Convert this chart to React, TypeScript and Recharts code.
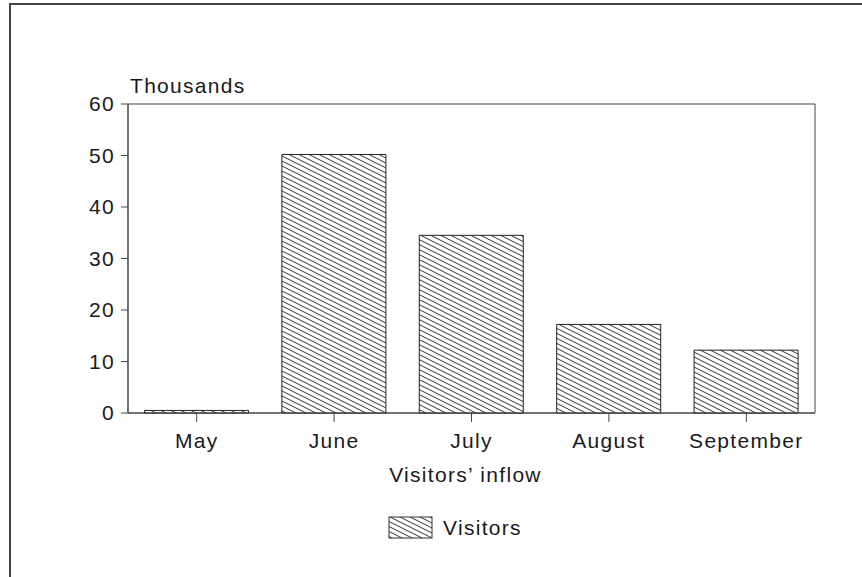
import React from 'react';
import { BarChart, Bar, XAxis, YAxis, Legend, Label, ReferenceArea } from 'recharts';

const months = ['May', 'June', 'July', 'August', 'September'];
const visitors = [0.5, 50.2, 34.5, 17.2, 12.2];
const yTicks = [0, 10, 20, 30, 40, 50, 60];
const seriesName = 'Visitors';
const xTitle = "Visitors\u2019 inflow";
const yTitle = 'Thousands';

const data = months.map((m, i) => ({ month: m, visitors: visitors[i] }));

const FONT = '"Liberation Sans", Arial, Helvetica, sans-serif';
const INK = '#1a1a1a';
const AXIS = '#444';
const FS = 21;
const LS = 1.3;

const Hatch = ({ id }: { id: string }) => (
  <pattern id={id} patternUnits="userSpaceOnUse" width={10} height={5}>
    <rect width={10} height={5} fill="#fff" />
    <path d="M-2,-1 L12,6 M-2,-6 L12,1 M-2,4 L12,11" stroke="#333" strokeWidth={1} />
  </pattern>
);

const LegendContent = () => (
  <div style={{ display: 'flex', justifyContent: 'flex-start', alignItems: 'center' }}>
    <svg width={46} height={24} style={{ display: 'block' }}>
      <defs>
        <Hatch id="hatchLegend" />
      </defs>
      <rect x={1} y={1} width={43} height={21} fill="url(#hatchLegend)" stroke="#333" strokeWidth={1} />
    </svg>
    <span style={{ marginLeft: 9, fontSize: FS, color: INK, fontFamily: FONT, letterSpacing: LS }}>{seriesName}</span>
  </div>
);

export default function App() {
  return (
    <div style={{ position: 'absolute', left: 0, top: 0, width: 862, height: 577, background: '#fff', fontFamily: FONT, letterSpacing: LS }}>
      <div style={{ position: 'absolute', left: 9, top: 3, right: 0, bottom: 0, borderTop: '2px solid #444', borderLeft: '2px solid #444' }} />
      <BarChart
        width={862}
        height={577}
        data={data}
        margin={{ top: 104, right: 47, left: 0, bottom: 110 }}
        barCategoryGap="12%"
      >
        <defs>
          <Hatch id="hatchBar" />
        </defs>
        <XAxis
          dataKey="month"
          height={54}
          tickSize={9}
          tickMargin={11}
          axisLine={{ stroke: AXIS, strokeWidth: 1 }}
          tickLine={{ stroke: AXIS, strokeWidth: 1 }}
          tick={{ fill: INK, fontSize: FS, fontFamily: FONT }}
        >
          <Label value={xTitle} position="bottom" offset={0} fill={INK} fontSize={FS} fontFamily={FONT} dx={-6} />
        </XAxis>
        <YAxis
          width={128}
          domain={[0, 60]}
          ticks={yTicks}
          tickSize={7}
          tickMargin={6}
          axisLine={{ stroke: AXIS, strokeWidth: 1 }}
          tickLine={{ stroke: AXIS, strokeWidth: 1 }}
          tick={{ fill: INK, fontSize: FS, fontFamily: FONT }}
          label={{
            content: (props: any) => {
              const vb = props.viewBox || {};
              return (
                <text x={(vb.x || 0) + (vb.width || 0) + 2} y={(vb.y || 0) - 11} fill={INK} fontSize={FS} fontFamily={FONT}>
                  {yTitle}
                </text>
              );
            },
          }}
        />
        <ReferenceArea y1={0} y2={60} fill="none" fillOpacity={0} stroke={AXIS} strokeWidth={1} ifOverflow="visible" />
        <Legend
          layout="horizontal"
          verticalAlign="middle"
          align="center"
          content={<LegendContent />}
          wrapperStyle={{ position: 'absolute', top: 516, left: 388, width: 200, height: 26 }}
        />
        <Bar
          dataKey="visitors"
          name={seriesName}
          fill="url(#hatchBar)"
          stroke="#222"
          strokeWidth={1}
          isAnimationActive={false}
        />
      </BarChart>
    </div>
  );
}
